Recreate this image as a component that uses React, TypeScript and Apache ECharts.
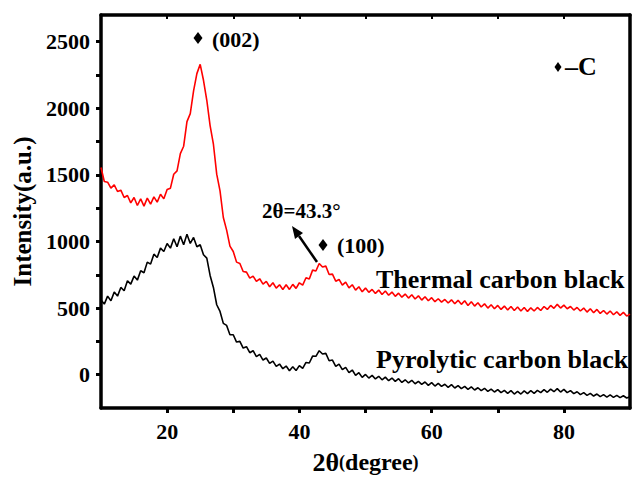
import React, { useEffect, useRef } from "react";
import * as echarts from "echarts";

const twoTheta = [
  10, 10.5, 11, 11.5, 12, 12.5, 13, 13.5, 14, 14.5,
  15, 15.5, 16, 16.5, 17, 17.5, 18, 18.5, 19, 19.5,
  20, 20.5, 21, 21.5, 22, 22.5, 23, 23.5, 24, 24.5,
  25, 25.5, 26, 26.5, 27, 27.5, 28, 28.5, 29, 29.5,
  30, 30.5, 31, 31.5, 32, 32.5, 33, 33.5, 34, 34.5,
  35, 35.5, 36, 36.5, 37, 37.5, 38, 38.5, 39, 39.5,
  40, 40.5, 41, 41.5, 42, 42.5, 43, 43.5, 44, 44.5,
  45, 45.5, 46, 46.5, 47, 47.5, 48, 48.5, 49, 49.5,
  50, 50.5, 51, 51.5, 52, 52.5, 53, 53.5, 54, 54.5,
  55, 55.5, 56, 56.5, 57, 57.5, 58, 58.5, 59, 59.5,
  60, 60.5, 61, 61.5, 62, 62.5, 63, 63.5, 64, 64.5,
  65, 65.5, 66, 66.5, 67, 67.5, 68, 68.5, 69, 69.5,
  70, 70.5, 71, 71.5, 72, 72.5, 73, 73.5, 74, 74.5,
  75, 75.5, 76, 76.5, 77, 77.5, 78, 78.5, 79, 79.5,
  80, 80.5, 81, 81.5, 82, 82.5, 83, 83.5, 84, 84.5,
  85, 85.5, 86, 86.5, 87, 87.5, 88, 88.5, 89, 89.5,
  90,
];

const thermalCarbonBlack = [
  1555, 1450, 1445, 1400, 1425, 1375, 1385, 1330, 1345, 1290,
  1330, 1270, 1320, 1265, 1325, 1280, 1335, 1295, 1355, 1320,
  1390, 1400, 1505, 1530, 1660, 1715, 1900, 1960, 2130, 2260,
  2330, 2210, 2060, 1870, 1730, 1505, 1380, 1180, 1085, 965,
  925, 845, 835, 775, 770, 725, 740, 700, 720, 680,
  700, 660, 690, 650, 675, 640, 675, 640, 678, 648,
  690, 672, 728, 718, 785, 778, 835, 808, 815, 752,
  755, 702, 715, 672, 695, 652, 675, 635, 660, 622,
  650, 618, 640, 610, 635, 602, 628, 596, 620, 588,
  612, 582, 605, 575, 600, 568, 592, 560, 585, 555,
  578, 548, 570, 545, 565, 538, 562, 532, 558, 528,
  555, 520, 548, 515, 540, 508, 532, 500, 525, 495,
  520, 490, 515, 485, 512, 482, 508, 478, 505, 475,
  502, 478, 505, 482, 512, 490, 520, 498, 528, 500,
  522, 495, 512, 485, 505, 478, 500, 470, 495, 465,
  490, 460, 482, 455, 478, 450, 472, 445, 468, 440,
  455,
];

const pyrolyticCarbonBlack = [
  560, 530, 590, 555, 620, 590, 655, 630, 705, 680,
  740, 710, 780, 765, 845, 830, 905, 880, 950, 925,
  985, 950, 1020, 960, 1040, 975, 1055, 985, 1030, 960,
  975, 900, 875, 745, 655, 525, 475, 385, 370, 300,
  300, 245, 250, 200, 210, 165, 180, 135, 152, 110,
  125, 85, 102, 62, 80, 45, 65, 30, 60, 32,
  68, 48, 92, 88, 140, 138, 180, 155, 160, 105,
  110, 62, 80, 38, 55, 15, 35, -5, 15, -20,
  2, -25, -5, -32, -12, -38, -18, -45, -25, -50,
  -30, -58, -38, -62, -42, -68, -50, -72, -55, -80,
  -60, -85, -65, -88, -72, -95, -75, -100, -82, -105,
  -88, -110, -92, -115, -98, -120, -102, -125, -108, -130,
  -112, -135, -118, -140, -120, -145, -125, -145, -122, -142,
  -120, -140, -118, -135, -112, -132, -108, -128, -105, -130,
  -110, -135, -120, -142, -128, -150, -135, -155, -140, -160,
  -145, -165, -150, -168, -152, -170, -155, -172, -158, -175,
  -165,
];

const xTickValues = [20, 30, 40, 50, 60, 70, 80];
const xLabelValues = [20, 40, 60, 80];
const yTickValues = [0, 250, 500, 750, 1000, 1250, 1500, 1750, 2000, 2250, 2500];
const yLabelValues = [0, 500, 1000, 1500, 2000, 2500];

const SERIF = "Liberation Serif, Times New Roman, serif";

const GRID = { left: 101, right: 3, top: 15, bottom: 74 };
const W = 633;
const H = 482;

function toPairs(xs: number[], ys: number[]) {
  return xs.map((x, i) => [x, ys[i]]);
}

function diamond(cx: number, cy: number, rx: number, ry: number) {
  return {
    type: "polygon",
    silent: true,
    shape: { points: [[cx, cy - ry], [cx + rx, cy], [cx, cy + ry], [cx - rx, cy]] },
    style: { fill: "#000" },
  };
}

function label(text: string, x: number, y: number, size: number) {
  return {
    type: "text",
    x,
    y,
    silent: true,
    style: {
      text,
      fill: "#000",
      fontFamily: SERIF,
      fontWeight: "bold",
      fontSize: size,
      align: "left",
      verticalAlign: "middle",
    },
  };
}

export default function App() {
  const ref = useRef<HTMLDivElement>(null);

  useEffect(() => {
    if (!ref.current) return;
    const chart = echarts.init(ref.current, null, { renderer: "svg" });
    const mkLine = () => ({ color: "#000", width: 3.5 });
    const tickLabel = {
      fontFamily: SERIF,
      fontWeight: "bold" as const,
      fontSize: 22,
      color: "#000",
      formatter: (v: number) => String(v),
    };
    chart.setOption({
      animation: false,
      backgroundColor: "#fff",
      grid: { ...GRID, show: false },
      xAxis: [
        {
          type: "value",
          min: 10,
          max: 90,
          position: "bottom",
          splitLine: { show: false },
          axisLine: { show: true, onZero: false, lineStyle: mkLine() },
          axisTick: { show: true, customValues: xTickValues, length: 5, lineStyle: { color: "#000", width: 3 } },
          axisLabel: { ...tickLabel, customValues: xLabelValues, margin: 12 },
          name: "{a|2θ}{b|(}{c|degree}{b|)}",
          nameLocation: "middle",
          nameGap: 41,
          nameTextStyle: {
            rich: {
              a: { fontFamily: SERIF, fontWeight: "bold", fontSize: 26, color: "#000" },
              b: { fontFamily: SERIF, fontWeight: "bold", fontSize: 18, color: "#000" },
              c: { fontFamily: SERIF, fontWeight: "bold", fontSize: 24, color: "#000" },
            },
          },
        },
        {
          type: "value",
          min: 10,
          max: 90,
          position: "top",
          splitLine: { show: false },
          axisLine: { show: true, onZero: false, lineStyle: mkLine() },
          axisTick: { show: true, inside: true, customValues: xTickValues, length: 4, lineStyle: { color: "#000", width: 2 } },
          axisLabel: { show: false },
        },
      ],
      yAxis: [
        {
          type: "value",
          min: -250,
          max: 2700,
          position: "left",
          splitLine: { show: false },
          axisLine: { show: true, onZero: false, lineStyle: mkLine() },
          axisTick: { show: true, customValues: yTickValues, length: 5, lineStyle: { color: "#000", width: 3 } },
          axisLabel: { ...tickLabel, customValues: yLabelValues, margin: 11 },
          name: "Intensity(a.u.)",
          nameLocation: "middle",
          nameGap: 64,
          nameTextStyle: { fontFamily: SERIF, fontWeight: "bold", fontSize: 25, color: "#000" },
        },
        {
          type: "value",
          min: -250,
          max: 2700,
          position: "right",
          splitLine: { show: false },
          axisLine: { show: true, onZero: false, lineStyle: mkLine() },
          axisTick: { show: false },
          axisLabel: { show: false },
        },
      ],
      series: [
        {
          name: "Thermal carbon black",
          type: "line",
          xAxisIndex: 0,
          yAxisIndex: 0,
          showSymbol: false,
          data: toPairs(twoTheta, thermalCarbonBlack),
          lineStyle: { color: "#ff0000", width: 1.6 },
          itemStyle: { color: "#ff0000" },
        },
        {
          name: "Pyrolytic carbon black",
          type: "line",
          xAxisIndex: 0,
          yAxisIndex: 0,
          showSymbol: false,
          data: toPairs(twoTheta, pyrolyticCarbonBlack),
          lineStyle: { color: "#000", width: 1.6 },
          itemStyle: { color: "#000" },
        },
      ],
      graphic: [
        diamond(198, 38, 4.5, 6),
        label("(002)", 212, 39, 22),
        diamond(558, 67, 3.5, 5),
        label("–C", 565, 66, 26),
        label("2θ=43.3°", 262, 211, 21),
        {
          type: "line",
          silent: true,
          shape: { x1: 317, y1: 262, x2: 299, y2: 236 },
          style: { stroke: "#000", lineWidth: 2.5 },
        },
        {
          type: "polygon",
          silent: true,
          shape: { points: [[292, 226], [303, 233], [295, 239]] },
          style: { fill: "#000" },
        },
        diamond(323, 245, 4.5, 6),
        label("(100)", 337, 245, 22),
        label("Thermal carbon black", 376, 279, 26),
        label("Pyrolytic carbon black", 376, 359, 26),
      ],
    });
    return () => chart.dispose();
  }, []);

  return (
    <div
      ref={ref}
      style={{ position: "absolute", left: 0, top: 0, width: W, height: H }}
    />
  );
}
